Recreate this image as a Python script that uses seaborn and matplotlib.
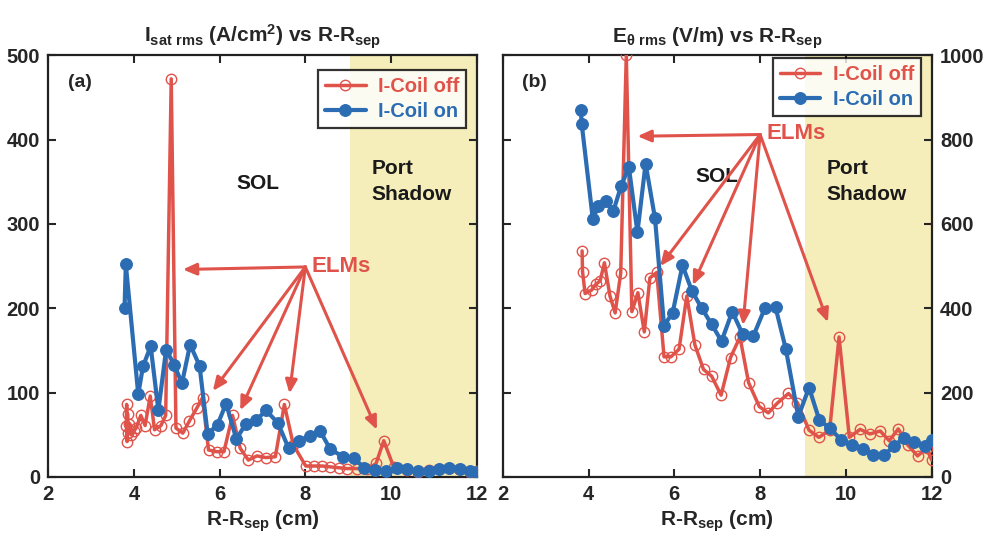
import numpy as np
import pandas as pd
import seaborn as sns
import matplotlib.pyplot as plt

# (a) Isat rms vs R-Rsep
isat_off_r = [3.82, 3.83, 3.84, 3.85, 3.86, 3.88, 3.93, 3.99, 4.05, 4.16, 4.26, 4.38, 4.48, 4.63, 4.74,
              4.87, 4.98, 5.14, 5.29, 5.47, 5.60, 5.74, 5.93, 6.10, 6.30, 6.48, 6.67, 6.87, 7.08, 7.30,
              7.51, 7.72, 8.01, 8.21, 8.39, 8.58, 8.78, 8.97, 9.20, 9.45, 9.65, 9.83, 10.06, 10.37,
              10.64, 10.88, 11.11, 11.35, 11.58, 11.84, 12.0]
isat_off = [60, 86, 42, 75, 52, 63, 50, 54, 58, 73, 61, 96, 56, 61, 73,
            472, 58, 52, 66, 82, 94, 32, 30, 30, 73, 34, 20, 25, 23, 24,
            86, 38, 13, 13, 13, 12, 11, 10, 10, 9, 16, 43, 12, 8,
            6, 8, 10, 11, 9, 6, 7]

isat_on_r = [3.78, 3.81, 4.10, 4.21, 4.39, 4.57, 4.75, 4.94, 5.12, 5.31, 5.53, 5.72, 5.95, 6.15, 6.39,
             6.61, 6.85, 7.08, 7.36, 7.61, 7.86, 8.10, 8.35, 8.58, 8.88, 9.13, 9.38, 9.63, 9.89,
             10.14, 10.37, 10.63, 10.88, 11.13, 11.36, 11.60, 11.84, 12.0]
isat_on = [200, 252, 98, 131, 155, 79, 151, 133, 111, 157, 132, 51, 62, 87, 45,
           63, 67, 79, 64, 34, 43, 49, 54, 33, 24, 22, 11, 8, 7,
           11, 9, 7, 7, 9, 11, 9, 7, 6]

# (b) E_theta rms vs R-Rsep
e_off_r = [3.85, 3.86, 3.92, 4.07, 4.17, 4.27, 4.37, 4.50, 4.62, 4.75, 4.88, 5.01, 5.15, 5.30, 5.43,
           5.59, 5.76, 5.92, 6.11, 6.29, 6.48, 6.68, 6.87, 7.09, 7.31, 7.53, 7.73, 7.98, 8.19, 8.40,
           8.66, 8.87, 9.14, 9.37, 9.62, 9.84, 10.08, 10.33, 10.56, 10.80, 11.01, 11.22, 11.44,
           11.67, 11.88, 12.0]
e_off = [536, 487, 435, 443, 457, 465, 508, 429, 389, 483, 1000, 392, 437, 344, 472,
         485, 285, 285, 303, 429, 313, 255, 239, 194, 283, 332, 224, 167, 152, 175,
         198, 176, 111, 94, 111, 332, 94, 113, 102, 109, 86, 114, 76,
         50, 68, 40]

e_on_r = [3.82, 3.84, 4.10, 4.23, 4.40, 4.58, 4.76, 4.94, 5.14, 5.33, 5.55, 5.76, 5.96, 6.19, 6.41,
          6.64, 6.87, 7.10, 7.35, 7.59, 7.84, 8.11, 8.36, 8.60, 8.89, 9.14, 9.38, 9.63, 9.89,
          10.14, 10.39, 10.64, 10.89, 11.12, 11.35, 11.59, 11.84, 12.0]
e_on = [871, 838, 611, 643, 654, 631, 690, 735, 580, 743, 613, 359, 389, 502, 441,
        400, 362, 322, 392, 339, 334, 400, 402, 303, 143, 212, 135, 115, 88,
        76, 67, 52, 52, 73, 93, 84, 73, 88]

shadow_start = 9.05
shadow_end = 12.0

RED = "#e0534a"
BLUE = "#2b6cb3"
SHADE = "#f5edba"

sns.set_style("ticks")
plt.rcParams['font.family'] = ['Liberation Sans', 'DejaVu Sans']
plt.rcParams['font.weight'] = 'bold'
plt.rcParams['mathtext.fontset'] = 'custom'
plt.rcParams['mathtext.rm'] = 'Liberation Sans:bold'
plt.rcParams['mathtext.it'] = 'Liberation Sans:bold'
plt.rcParams['mathtext.bf'] = 'Liberation Sans:bold'
plt.rcParams['mathtext.default'] = 'bf'


def draw_panel(ax, r_off, v_off, r_on, v_on, ymax, ystep, leg_top):
    ax.axvspan(shadow_start, shadow_end, color=SHADE, lw=0, zorder=0)
    sns.lineplot(x=r_off, y=v_off, ax=ax, sort=False, color=RED, lw=2.5,
                 marker='o', markersize=7.5, markerfacecolor='none', markeredgecolor=RED,
                 markeredgewidth=1.0, label="I-Coil off", zorder=3)
    sns.lineplot(x=r_on, y=v_on, ax=ax, sort=False, color=BLUE, lw=3,
                 marker='o', markersize=8.5, markerfacecolor=BLUE, markeredgecolor=BLUE,
                 label="I-Coil on", zorder=4)
    ax.set_xlim(2, 12)
    ax.set_ylim(0, ymax)
    ax.set_xticks(np.arange(2, 13, 2))
    ax.set_yticks(np.arange(0, ymax + 1, ystep))
    ax.tick_params(direction='in', length=6, width=1.5, top=True, right=True, left=True,
                   labelsize=14.5, pad=6)
    for s in ax.spines.values():
        s.set_linewidth(1.6)
        s.set_color("#222222")
    ax.set_xlabel(r"R-R$_{sep}$ (cm)", fontsize=15, fontweight='bold', labelpad=3)
    ax.set_ylabel("")
    leg = ax.legend(loc='upper right', fontsize=14.5, frameon=True, fancybox=False,
                    edgecolor='black', handlelength=2.0, borderpad=0.35, labelspacing=0.3,
                    handletextpad=0.6, borderaxespad=0, bbox_to_anchor=(0.975, leg_top))
    leg.get_frame().set_linewidth(1.6)
    for t, c in zip(leg.get_texts(), [RED, BLUE]):
        t.set_color(c)
        t.set_fontweight('bold')


def elm_arrows(ax, origin, tips, text_xy):
    ax.text(text_xy[0], text_xy[1], "ELMs", color=RED, fontsize=16, fontweight='bold',
            va='center', ha='left', zorder=6)
    for tip in tips:
        ax.annotate("", xy=tip, xytext=origin,
                    arrowprops=dict(arrowstyle='-|>,head_length=0.8,head_width=0.35',
                                    color=RED, lw=2.2, shrinkA=0, shrinkB=0), zorder=5)


fig = plt.figure(figsize=(9.85, 5.47), dpi=100)
ax1 = fig.add_axes([0.049, 0.128, 0.435, 0.771])
ax2 = fig.add_axes([0.5104, 0.128, 0.4355, 0.771])

draw_panel(ax1, isat_off_r, isat_off, isat_on_r, isat_on, 500, 100, 0.965)
ax1.set_title(r"I$_{sat\ rms}$ (A/cm$^{2}$) vs R-R$_{sep}$", fontsize=15, fontweight='bold', pad=9)
ax1.text(0.045, 0.955, "(a)", transform=ax1.transAxes, fontsize=14, fontweight='bold', va='top')
ax1.text(6.9, 348, "SOL", fontsize=15, fontweight='bold', ha='center', va='center', color="#1a1a1a")
ax1.text(9.55, 350, "Port\nShadow", fontsize=15, fontweight='bold', ha='left', va='center',
         color="#1a1a1a", linespacing=1.45)
elm_arrows(ax1, (8.0, 249), [(5.14, 246), (5.84, 102), (6.48, 79), (7.63, 99), (9.67, 56)],
           (8.15, 249))

draw_panel(ax2, e_off_r, e_off, e_on_r, e_on, 1000, 200, 0.993)
ax2.yaxis.tick_right()
ax2.tick_params(axis='y', left=True, right=True, labelleft=False, labelright=True)
ax2.set_title(r"E$_{\theta\ rms}$ (V/m) vs R-R$_{sep}$", fontsize=15, fontweight='bold', pad=9)
ax2.text(0.045, 0.955, "(b)", transform=ax2.transAxes, fontsize=14, fontweight='bold', va='top')
ax2.text(7.0, 712, "SOL", fontsize=15, fontweight='bold', ha='center', va='center', color="#1a1a1a")
ax2.text(9.55, 700, "Port\nShadow", fontsize=15, fontweight='bold', ha='left', va='center',
         color="#1a1a1a", linespacing=1.45)
elm_arrows(ax2, (8.0, 812), [(5.14, 808), (5.67, 500), (6.43, 455), (7.6, 360), (9.58, 367)],
           (8.15, 815))

fig.savefig("out.png", dpi=100)
